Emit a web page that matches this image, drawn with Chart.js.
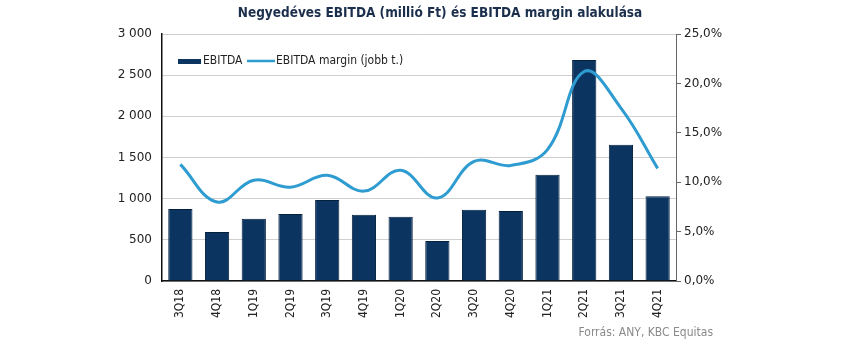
<!DOCTYPE html>
<html>
<head>
<meta charset="utf-8">
<script src="https://cdn.jsdelivr.net/npm/chart.js@4/dist/chart.umd.min.js"></script>
<style>
  html, body { margin: 0; padding: 0; background: #fff; }
  #wrap { width: 850px; height: 351px; }
</style>
</head>
<body>
<div id="wrap"><canvas id="chart" width="850" height="351"></canvas></div>
<script>
const categories = ['3Q18', '4Q18', '1Q19', '2Q19', '3Q19', '4Q19', '1Q20', '2Q20', '3Q20', '4Q20', '1Q21', '2Q21', '3Q21', '4Q21'];
const ebitda = [875, 595, 755, 815, 985, 805, 780, 485, 865, 850, 1290, 2685, 1655, 1030];
const ebitdaMargin = [11.8, 8.0, 10.2, 9.5, 10.7, 9.1, 11.2, 8.4, 12.1, 11.7, 13.3, 21.2, 17.5, 11.4];
const leftTicks = [0, 500, 1000, 1500, 2000, 2500, 3000];
const rightTicks = [0, 5, 10, 15, 20, 25];

const titleText = 'Negyedéves EBITDA (millió Ft) és EBITDA margin alakulása';
const sourceText = 'Forrás: ANY, KBC Equitas';

const navy = '#0b3461';
const lightBlue = '#2e9cd0';

// title, legend (inside plot) and source line
const extras = {
  id: 'extras',
  afterDraw(chart) {
    const ctx = chart.ctx;
    const barSet = chart.data.datasets.find(d => d.type === 'bar');
    const lineSet = chart.data.datasets.find(d => d.type === 'line');
    ctx.save();
    ctx.textBaseline = 'middle';
    ctx.fillStyle = '#1b2f4d';
    ctx.font = 'bold 13.5px "DejaVu Sans Condensed"';
    ctx.textAlign = 'center';
    ctx.fillText(titleText, 440, 13);

    ctx.font = '12px "DejaVu Sans Condensed"';
    ctx.textAlign = 'left';
    ctx.fillStyle = navy;
    ctx.fillRect(178, 59, 23, 5);
    ctx.fillStyle = '#222';
    ctx.fillText(barSet.label, 203, 61);
    ctx.strokeStyle = lightBlue;
    ctx.lineWidth = 2.5;
    ctx.beginPath();
    ctx.moveTo(247, 61);
    ctx.lineTo(275, 61);
    ctx.stroke();
    ctx.fillText(lineSet.label, 276, 61);

    ctx.fillStyle = '#8a8a8a';
    ctx.textAlign = 'right';
    ctx.fillText(sourceText, 713, 333);
    ctx.restore();
  }
};

new Chart(document.getElementById('chart'), {
  data: {
    labels: categories,
    datasets: [
      {
        type: 'line',
        label: 'EBITDA margin (jobb t.)',
        data: ebitdaMargin,
        yAxisID: 'y2',
        borderColor: lightBlue,
        borderWidth: 3,
        pointRadius: 0,
        tension: 0.4,
        order: 1
      },
      {
        type: 'bar',
        label: 'EBITDA',
        data: ebitda,
        yAxisID: 'y',
        backgroundColor: navy,
        borderColor: '#05203f',
        borderWidth: 1,
        categoryPercentage: 1,
        barPercentage: 0.66,
        order: 2
      }
    ]
  },
  options: {
    responsive: false,
    animation: false,
    layout: { padding: { top: 34, left: 0, right: 0, bottom: 0 } },
    plugins: { legend: { display: false }, title: { display: false }, tooltip: { enabled: false } },
    scales: {
      x: {
        afterFit(s) { s.height = 70; },
        grid: { display: false, drawTicks: false },
        border: { color: '#111', width: 1.5 },
        ticks: { minRotation: 90, maxRotation: 90, padding: 8, color: '#222', font: { family: 'DejaVu Sans Condensed', size: 12 } }
      },
      y: {
        position: 'left',
        min: 0, max: 3000,
        afterFit(s) { s.width = 162; },
        afterBuildTicks(s) { s.ticks = leftTicks.map(v => ({ value: v })); },
        grid: { color: '#cfcfcf', drawTicks: false },
        border: { color: '#111', width: 1.5 },
        ticks: {
          padding: 10, color: '#222', font: { family: 'DejaVu Sans', size: 12 },
          callback: v => v >= 1000 ? Math.floor(v / 1000) + ' ' + String(v % 1000).padStart(3, '0') : String(v)
        }
      },
      y2: {
        position: 'right',
        min: 0, max: 25,
        afterFit(s) { s.width = 174; },
        afterBuildTicks(s) { s.ticks = rightTicks.map(v => ({ value: v })); },
        grid: { drawOnChartArea: false, tickLength: 5, color: '#666' },
        border: { color: '#666', width: 1 },
        ticks: {
          padding: 3, color: '#222', font: { family: 'DejaVu Sans', size: 12 },
          callback: v => v.toFixed(1).replace('.', ',') + '%'
        }
      }
    }
  },
  plugins: [extras]
});
</script>
</body>
</html>
